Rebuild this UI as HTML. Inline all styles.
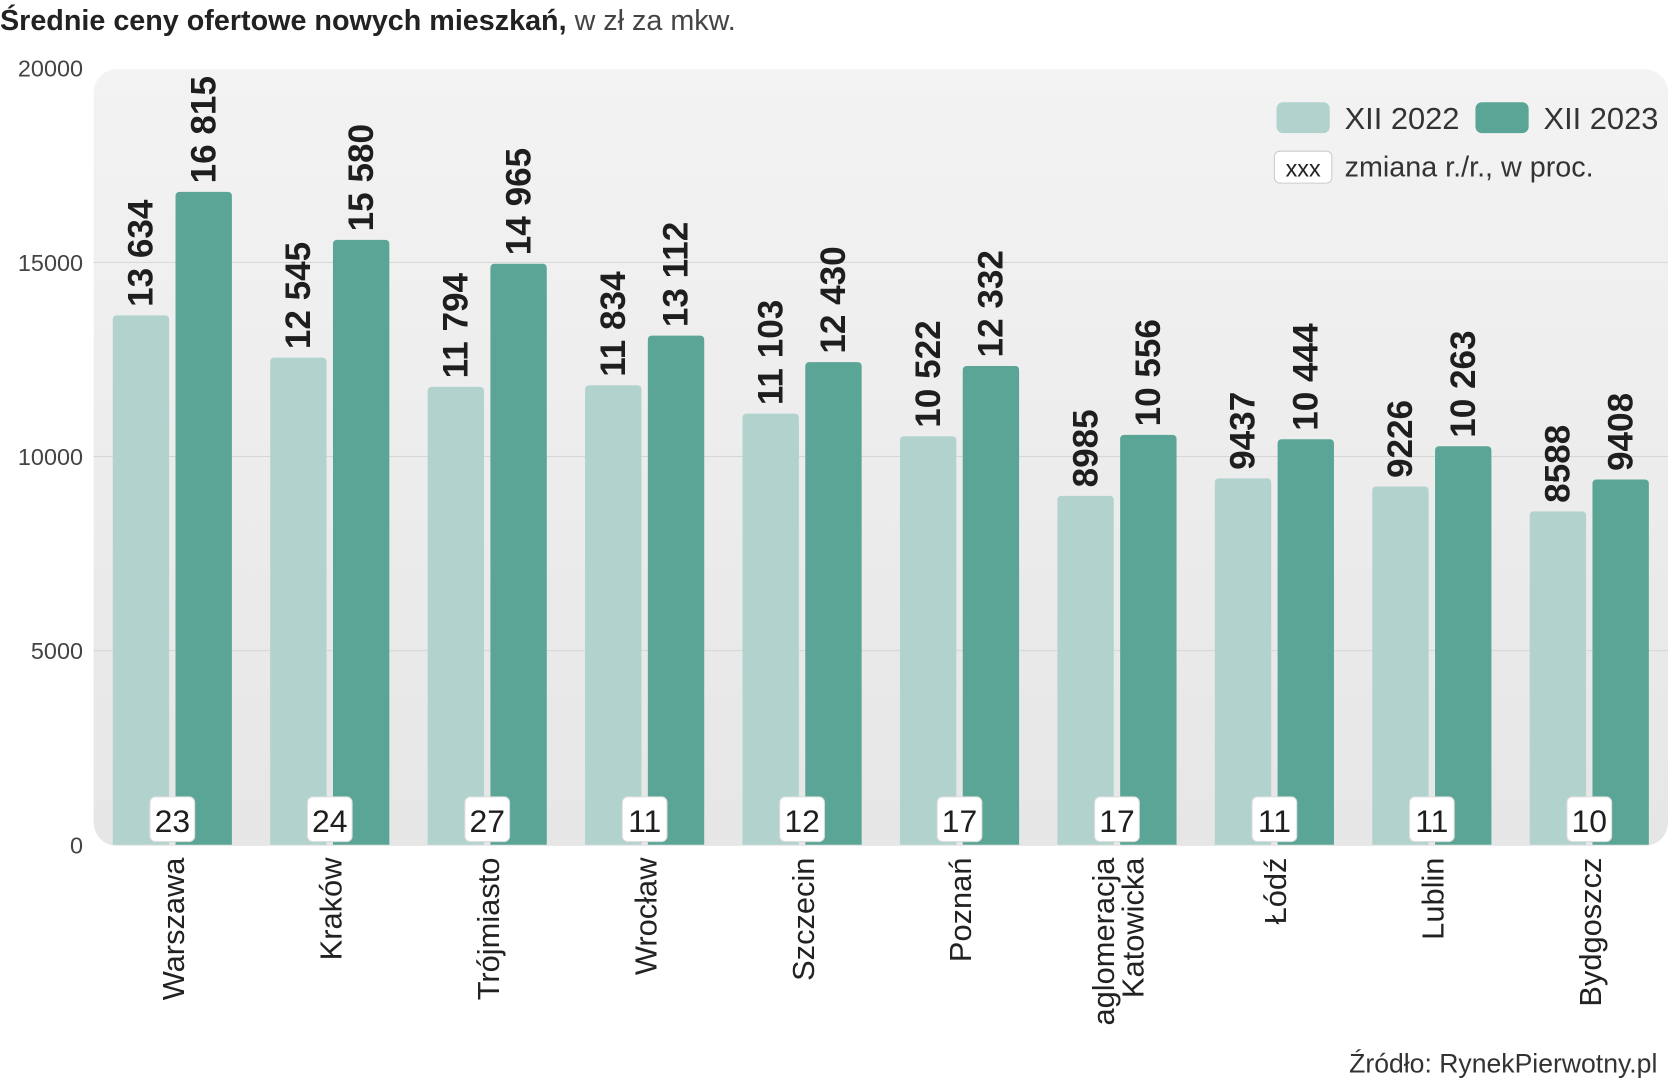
<!DOCTYPE html>
<html><head><meta charset="utf-8"><style>
html,body{margin:0;padding:0;background:#fff}
svg{display:block}
text{font-family:"Liberation Sans",sans-serif}
.n{font-family:"Liberation Sans Narrow","Liberation Sans",sans-serif}
</style></head><body>
<svg id="chart" width="1668" height="1080" viewBox="0 0 1568 1015" xmlns="http://www.w3.org/2000/svg">
<defs><linearGradient id="bg" x1="0" y1="0" x2="0" y2="1"><stop offset="0" stop-color="#f3f3f3"/><stop offset="1" stop-color="#e6e6e6"/></linearGradient></defs>
<text x="0" y="28" font-size="27" fill="#222"><tspan font-weight="bold" class="n">Średnie ceny ofertowe nowych mieszkań,</tspan><tspan fill="#444"> w zł za mkw.</tspan></text>
<rect x="88" y="65" width="1480" height="730" rx="22" fill="url(#bg)"/>
<g id="grid"></g><g id="bars"></g>
<g>
<rect x="1200" y="96" width="50" height="29" rx="6" fill="#b2d3cd"/>
<text x="1264" y="121" font-size="29" fill="#333">XII 2022</text>
<rect x="1387" y="96" width="50" height="29" rx="6" fill="#5ba596"/>
<text x="1451" y="121" font-size="29" fill="#333">XII 2023</text>
<rect x="1198" y="142" width="54" height="30" rx="5" fill="#fff" stroke="#ccc"/>
<text x="1225" y="166" font-size="22" fill="#222" text-anchor="middle" class="n">xxx</text>
<text x="1264" y="166" font-size="27" fill="#333">zmiana r./r., w proc.</text>
</g>
<text x="1558" y="1008" font-size="25" fill="#333" text-anchor="end">Źródło: RynekPierwotny.pl</text>
</svg>
<script>
const categories=["Warszawa","Kraków","Trójmiasto","Wrocław","Szczecin","Poznań","aglomeracja|Katowicka","Łódź","Lublin","Bydgoszcz"];
const values2022=[13634,12545,11794,11834,11103,10522,8985,9437,9226,8588];
const values2023=[16815,15580,14965,13112,12430,12332,10556,10444,10263,9408];
const changes=[23,24,27,11,12,17,17,11,11,10];
const ticks=[0,5000,10000,15000,20000];
const NS="http://www.w3.org/2000/svg";
const y0=794,yTop=64,vMax=20000;
const y=v=>y0-(v/vMax)*(y0-yTop);
const gx=i=>106+i*148;
function mk(tag,attrs,parent,txt){const e=document.createElementNS(NS,tag);for(const k in attrs)e.setAttribute(k,attrs[k]);if(txt!==undefined)e.textContent=txt;parent.appendChild(e);return e;}
const grid=document.getElementById('grid'),bars=document.getElementById('bars');
const fmt=v=>v>=10000?String(v).replace(/(\d+)(\d{3})$/,'$1 $2'):String(v);
ticks.forEach(t=>{
  if(t>0&&t<vMax){const l=mk('line',{x1:88,x2:1568,y1:y(t),y2:y(t),stroke:'#d6d6d6','stroke-width':1},grid);
  
  }
  const tx=mk('text',{x:78,y:y(t)+8,'font-size':22,fill:'#444','text-anchor':'end'},grid,String(t));
  
  
});
categories.forEach((c,i)=>{
  const x=gx(i);
  [[values2022[i],'#b2d3cd',x,'2022'],[values2023[i],'#5ba596',x+59,'2023']].forEach(([v,col,bx,yr])=>{
    const r=mk('path',{d:`M${bx} ${y0} V${y(v)+4} q0 -4 4 -4 h45 q4 0 4 4 V${y0} Z`,fill:col},bars);
    
    
    const cx=bx+26.5+11,cy=y(v)-8;
    const t=mk('text',{x:cx,y:cy,'font-size':33,'font-weight':'bold',fill:'#1e1e1e',class:'n',transform:`rotate(-90 ${cx} ${cy})`},bars,fmt(v));
    
    
  });
  const bxc=x+56;
  const b=mk('rect',{x:bxc-21,y:749,width:42,height:42,rx:5,fill:'#fff',stroke:'#ddd'},bars);
  
  
  const ct=mk('text',{x:bxc,y:782,'font-size':30,fill:'#1e1e1e','text-anchor':'middle',class:'n'},bars,String(changes[i]));
  
  
  const lines=c.split('|');
  lines.forEach((ln,j)=>{
    const lx=bxc+11-(lines.length-1)*14+j*28,ly=806;
    const lt=mk('text',{x:lx,y:ly,'font-size':29,fill:'#222','text-anchor':'end',transform:`rotate(-90 ${lx} ${ly})`},bars,ln);
    
    
  });
});
</script>
</body></html>
